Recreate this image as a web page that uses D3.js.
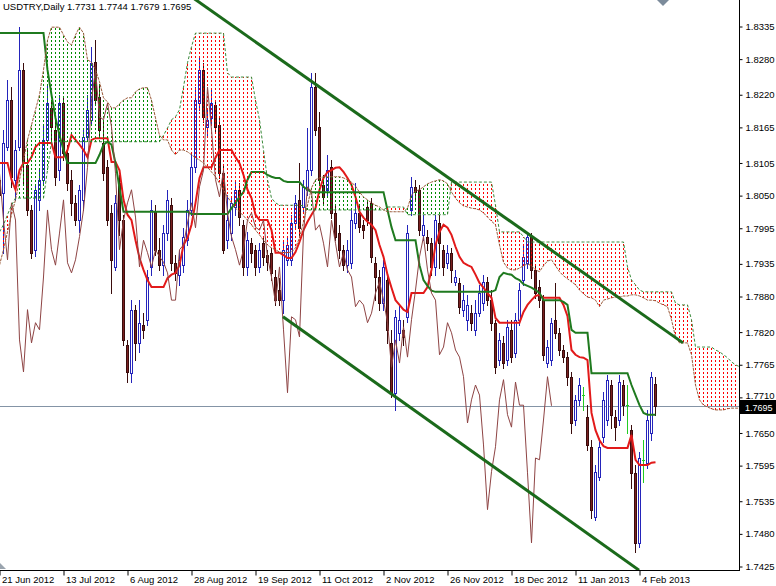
<!DOCTYPE html>
<html><head><meta charset="utf-8">
<script src="https://cdn.jsdelivr.net/npm/d3@7"></script>
<style>html,body{margin:0;padding:0;background:#fff;overflow:hidden}
text{font-family:"Liberation Sans",Arial,sans-serif}</style>
</head><body>
<svg id="c" width="776" height="586"></svg>
<script>
const chartTitle = "USDTRY,Daily  1.7731 1.7744 1.7679 1.7695";
const lastPrice = 1.7695;
const dateLabels = ["21 Jun 2012","13 Jul 2012","6 Aug 2012","28 Aug 2012","19 Sep 2012","11 Oct 2012","2 Nov 2012","26 Nov 2012","18 Dec 2012","11 Jan 2013","4 Feb 2013"];
const dateLabelBars = [0,16,32,48,64,80,96,112,128,144,160];
const priceTicks = [1.8335,1.8280,1.8220,1.8165,1.8105,1.8050,1.7995,1.7935,1.7880,1.7820,1.7765,1.7710,1.7650,1.7595,1.7535,1.7480,1.7425];

const open = [1.8076,1.8054,1.8131,1.8210,1.8076,1.8131,1.8261,1.8101,1.8025,1.7958,1.8042,1.8076,1.8143,1.8197,1.8160,1.8092,1.8205,1.8121,1.8076,1.8037,1.8008,1.8042,1.8148,1.8177,1.8274,1.8215,1.8138,1.8097,1.8020,1.7929,1.8070,1.8008,1.7798,1.7750,1.7857,1.7801,1.7831,1.7840,1.7929,1.8022,1.7958,1.7932,1.7986,1.8033,1.7936,1.7916,1.7932,1.7974,1.8025,1.8097,1.8205,1.8261,1.8165,1.8180,1.8202,1.8168,1.8087,1.7974,1.7986,1.8030,1.8059,1.8000,1.7929,1.7969,1.7958,1.7929,1.7969,1.7949,1.7953,1.7912,1.7890,1.7873,1.7941,1.7941,1.8003,1.8042,1.8030,1.8059,1.8092,1.8232,1.8165,1.8067,1.8059,1.8097,1.8020,1.7986,1.7958,1.7932,1.7936,1.8003,1.8020,1.8000,1.8030,1.8037,1.7936,1.7912,1.7868,1.7907,1.7801,1.7717,1.7818,1.7823,1.7845,1.8025,1.8064,1.8059,1.7983,1.7980,1.7969,1.7929,1.8003,1.7958,1.7936,1.7953,1.7904,1.7902,1.7857,1.7840,1.7851,1.7823,1.7851,1.7868,1.7904,1.7873,1.7835,1.7772,1.7801,1.7772,1.7823,1.7784,1.7840,1.7907,1.7936,1.7980,1.7924,1.7895,1.7873,1.7767,1.7772,1.7840,1.7818,1.7789,1.7777,1.7744,1.7671,1.7705,1.7713,1.7676,1.7626,1.7508,1.7575,1.7643,1.7671,1.7730,1.7676,1.7671,1.7730,1.7696,1.7654,1.7582,1.7464,1.7604,1.7599,1.7649,1.7731];
const high = [1.8092,1.8160,1.8244,1.8232,1.8143,1.8333,1.8273,1.8126,1.8033,1.8067,1.8092,1.8168,1.8236,1.8210,1.8177,1.8219,1.8215,1.8135,1.8092,1.8050,1.8067,1.8160,1.8219,1.8300,1.8311,1.8236,1.8177,1.8109,1.8033,1.8050,1.8084,1.8017,1.7806,1.7873,1.7865,1.7873,1.7851,1.7924,1.8042,1.8033,1.7978,1.8000,1.8059,1.8045,1.7949,1.7958,1.7995,1.8042,1.8121,1.8232,1.8281,1.8273,1.8197,1.8227,1.8210,1.8182,1.8101,1.8050,1.8047,1.8076,1.8070,1.8008,1.7988,1.7978,1.7966,1.7969,1.7981,1.7958,1.7961,1.7924,1.7910,1.7974,1.7980,1.8017,1.8050,1.8104,1.8076,1.8163,1.8256,1.8256,1.8190,1.8084,1.8118,1.8109,1.8033,1.8000,1.7966,1.7974,1.8025,1.8070,1.8033,1.8008,1.8042,1.8045,1.7946,1.7924,1.7941,1.7916,1.7823,1.7857,1.7865,1.7840,1.8000,1.8081,1.8076,1.8067,1.8017,1.7991,1.7978,1.8017,1.8017,1.7966,1.7966,1.7961,1.7924,1.7910,1.7899,1.7882,1.7865,1.7873,1.7899,1.7916,1.7912,1.7890,1.7840,1.7818,1.7813,1.7840,1.7840,1.7851,1.7902,1.7966,1.7988,1.7986,1.7932,1.7907,1.7882,1.7806,1.7843,1.7902,1.7826,1.7798,1.7786,1.7752,1.7713,1.7742,1.7727,1.7696,1.7637,1.7595,1.7637,1.7718,1.7747,1.7739,1.7688,1.7747,1.7739,1.7730,1.7663,1.7595,1.7617,1.7637,1.7688,1.7752,1.7744];
const low = [1.7949,1.7953,1.8126,1.8064,1.8042,1.8126,1.8070,1.8017,1.7944,1.7948,1.8025,1.8067,1.8135,1.8143,1.8067,1.8076,1.8109,1.8059,1.8017,1.8000,1.7988,1.8025,1.8143,1.8168,1.8202,1.8151,1.8076,1.8000,1.7885,1.7924,1.7983,1.7798,1.7735,1.7735,1.7772,1.7786,1.7809,1.7831,1.7916,1.7949,1.7924,1.7916,1.7974,1.7924,1.7907,1.7899,1.7921,1.7966,1.8017,1.8089,1.8194,1.8173,1.8148,1.8172,1.8155,1.8079,1.7953,1.7961,1.7974,1.8017,1.8000,1.7916,1.7916,1.7937,1.7916,1.7921,1.7932,1.7924,1.7907,1.7865,1.7865,1.7851,1.7932,1.7932,1.7995,1.7980,1.8022,1.8050,1.8084,1.8151,1.8067,1.8037,1.8050,1.8012,1.7974,1.7944,1.7924,1.7921,1.7927,1.7995,1.7988,1.7978,1.8000,1.7937,1.7873,1.7857,1.7857,1.7801,1.7710,1.7688,1.7806,1.7798,1.7836,1.8017,1.8042,1.7983,1.7974,1.7958,1.7916,1.7916,1.7927,1.7916,1.7927,1.7904,1.7899,1.7851,1.7846,1.7823,1.7823,1.7814,1.7846,1.7857,1.7865,1.7823,1.7750,1.7764,1.7759,1.7764,1.7769,1.7777,1.7831,1.7899,1.7927,1.7910,1.7877,1.7862,1.7772,1.7760,1.7764,1.7809,1.7781,1.7769,1.7730,1.7649,1.7663,1.7696,1.7688,1.7621,1.7506,1.7503,1.7570,1.7634,1.7663,1.7658,1.7637,1.7663,1.7680,1.7649,1.7557,1.7449,1.7457,1.7567,1.7590,1.7637,1.7679];
const close = [1.8050,1.8138,1.8210,1.8081,1.8126,1.8261,1.8104,1.8025,1.7953,1.8059,1.8076,1.8143,1.8205,1.8165,1.8081,1.8205,1.8121,1.8070,1.8037,1.8008,1.8059,1.8148,1.8194,1.8273,1.8210,1.8160,1.8087,1.8008,1.7941,1.8037,1.8008,1.7806,1.7752,1.7857,1.7801,1.7835,1.7823,1.7912,1.8025,1.7958,1.7932,1.7986,1.8042,1.7936,1.7919,1.7941,1.7980,1.8025,1.8097,1.8210,1.8261,1.8182,1.8177,1.8205,1.8165,1.8087,1.7958,1.8008,1.8037,1.8059,1.8013,1.7929,1.7974,1.7953,1.7929,1.7958,1.7946,1.7937,1.7919,1.7873,1.7873,1.7958,1.7966,1.8003,1.8037,1.7995,1.8064,1.8092,1.8232,1.8160,1.8076,1.8047,1.8092,1.8020,1.7980,1.7958,1.7932,1.7958,1.8008,1.8020,1.7996,1.7991,1.8008,1.7946,1.7912,1.7868,1.7929,1.7823,1.7717,1.7845,1.7840,1.7811,1.7986,1.8064,1.8055,1.7991,1.8000,1.7969,1.7929,1.8008,1.7969,1.7929,1.7953,1.7924,1.7912,1.7862,1.7873,1.7865,1.7835,1.7851,1.7885,1.7904,1.7873,1.7835,1.7760,1.7806,1.7767,1.7828,1.7777,1.7840,1.7890,1.7946,1.7980,1.7924,1.7885,1.7873,1.7781,1.7794,1.7835,1.7818,1.7789,1.7777,1.7744,1.7666,1.7705,1.7730,1.7713,1.7629,1.7520,1.7584,1.7626,1.7705,1.7739,1.7680,1.7659,1.7735,1.7696,1.7696,1.7582,1.7464,1.7607,1.7604,1.7671,1.7744,1.7695];

const tenkan = [1.8104,1.8104,1.8104,1.8076,1.8059,1.8092,1.8104,1.8104,1.8114,1.8131,1.8138,1.8138,1.8138,1.8138,1.8114,1.8114,1.8114,1.8126,1.8151,1.8143,1.8135,1.8126,1.8114,1.8143,1.8146,1.8146,1.8146,1.8146,1.8106,1.8106,1.8092,1.8042,1.8017,1.8008,1.7974,1.7944,1.7924,1.7907,1.7895,1.7895,1.7895,1.7895,1.7910,1.7916,1.7919,1.7932,1.7966,1.7978,1.8000,1.8037,1.8079,1.8097,1.8097,1.8097,1.8113,1.8126,1.8126,1.8126,1.8126,1.8114,1.8104,1.8084,1.8059,1.8045,1.8017,1.8008,1.8008,1.8008,1.7991,1.7953,1.7953,1.7949,1.7944,1.7944,1.7954,1.7971,1.7991,1.8005,1.8017,1.8028,1.8059,1.8079,1.8089,1.8092,1.8096,1.8097,1.8089,1.8079,1.8067,1.8047,1.8022,1.8012,1.8005,1.8000,1.7991,1.7966,1.7946,1.7916,1.7894,1.7873,1.7865,1.7857,1.7853,1.7885,1.7885,1.7885,1.7885,1.7895,1.7924,1.7966,1.7988,1.8000,1.7995,1.7983,1.7963,1.7946,1.7936,1.7932,1.7929,1.7916,1.7902,1.7894,1.7885,1.7877,1.7843,1.7835,1.7835,1.7835,1.7835,1.7835,1.7835,1.7853,1.7865,1.7873,1.7880,1.7882,1.7877,1.7877,1.7877,1.7877,1.7877,1.7865,1.7846,1.7789,1.7781,1.7777,1.7776,1.7772,1.7683,1.7654,1.7637,1.7627,1.7624,1.7624,1.7624,1.7624,1.7624,1.7624,1.7646,1.7604,1.7595,1.7595,1.7595,1.7599,1.7600];
const kijun = [1.8323,1.8323,1.8323,1.8323,1.8323,1.8323,1.8323,1.8323,1.8323,1.8323,1.8323,1.8323,1.8261,1.8219,1.8180,1.8151,1.8126,1.8104,1.8104,1.8104,1.8104,1.8104,1.8104,1.8104,1.8104,1.8118,1.8135,1.8140,1.8135,1.8104,1.8062,1.8022,1.8022,1.8022,1.8022,1.8022,1.8022,1.8022,1.8022,1.8022,1.8022,1.8022,1.8022,1.8022,1.8022,1.8022,1.8022,1.8022,1.8018,1.8018,1.8018,1.8018,1.8018,1.8018,1.8018,1.8018,1.8018,1.8018,1.8028,1.8037,1.8047,1.8055,1.8076,1.8089,1.8089,1.8089,1.8089,1.8084,1.8081,1.8079,1.8079,1.8074,1.8072,1.8072,1.8072,1.8072,1.8064,1.8059,1.8055,1.8055,1.8055,1.8055,1.8055,1.8055,1.8055,1.8055,1.8055,1.8055,1.8055,1.8055,1.8055,1.8055,1.8055,1.8055,1.8055,1.8055,1.8055,1.8025,1.7996,1.7974,1.7974,1.7974,1.7974,1.7974,1.7974,1.7932,1.7907,1.7897,1.7889,1.7887,1.7887,1.7887,1.7887,1.7887,1.7887,1.7887,1.7887,1.7887,1.7887,1.7887,1.7887,1.7887,1.7887,1.7887,1.7890,1.7912,1.7919,1.7917,1.7916,1.7910,1.7907,1.7900,1.7897,1.7894,1.7890,1.7885,1.7873,1.7873,1.7873,1.7873,1.7873,1.7870,1.7865,1.7823,1.7818,1.7818,1.7818,1.7818,1.7750,1.7750,1.7750,1.7750,1.7750,1.7750,1.7750,1.7750,1.7750,1.7750,1.7730,1.7713,1.7696,1.7683,1.7680,1.7680,1.7680];
const spanA = [1.7932,1.7958,1.7988,1.8017,1.8042,1.8076,1.8109,1.8143,1.8168,1.8194,1.8219,1.8261,1.8311,1.8333,1.8333,1.8333,1.8320,1.8308,1.8303,1.8320,1.8333,1.8323,1.8278,1.8274,1.8261,1.8241,1.8214,1.8207,1.8197,1.8197,1.8204,1.8210,1.8214,1.8214,1.8224,1.8229,1.8231,1.8231,1.8210,1.8180,1.8151,1.8143,1.8143,1.8126,1.8118,1.8126,1.8126,1.8123,1.8118,1.8113,1.8109,1.8104,1.8097,1.8089,1.8081,1.8070,1.8059,1.8047,1.8037,1.8028,1.8022,1.8015,1.8008,1.8000,1.7991,1.7983,1.7974,1.7966,1.7961,1.7958,1.7954,1.7953,1.7953,1.7954,1.7961,1.7978,1.8005,1.8033,1.8062,1.8076,1.8079,1.8081,1.8081,1.8081,1.8081,1.8081,1.8079,1.8076,1.8072,1.8065,1.8055,1.8047,1.8042,1.8037,1.8033,1.8030,1.8025,1.8022,1.8022,1.8022,1.8022,1.8022,1.8028,1.8050,1.8057,1.8059,1.8064,1.8069,1.8072,1.8074,1.8076,1.8074,1.8069,1.8055,1.8045,1.8037,1.8032,1.8030,1.8028,1.8027,1.8025,1.8020,1.8013,1.8006,1.8000,1.7966,1.7937,1.7927,1.7924,1.7924,1.7927,1.7931,1.7934,1.7931,1.7924,1.7921,1.7931,1.7939,1.7941,1.7931,1.7921,1.7914,1.7909,1.7904,1.7899,1.7890,1.7884,1.7878,1.7877,1.7873,1.7862,1.7873,1.7875,1.7877,1.7878,1.7878,1.7880,1.7880,1.7882,1.7882,1.7880,1.7877,1.7873,1.7873,1.7872,1.7868,1.7865,1.7862,1.7840,1.7811,1.7801,1.7801,1.7801,1.7781,1.7730,1.7705,1.7696,1.7693,1.7690,1.7688,1.7688,1.7688,1.7690,1.7691,1.7691,1.7691];
const spanB = [1.7988,1.8000,1.8017,1.8033,1.8045,1.8045,1.8045,1.8045,1.8045,1.8045,1.8045,1.8045,1.8092,1.8140,1.8140,1.8140,1.8140,1.8140,1.8140,1.8140,1.8140,1.8140,1.8140,1.8140,1.8140,1.8140,1.8140,1.8140,1.8140,1.8140,1.8140,1.8140,1.8140,1.8140,1.8140,1.8140,1.8140,1.8140,1.8140,1.8140,1.8140,1.8151,1.8163,1.8177,1.8182,1.8194,1.8232,1.8273,1.8300,1.8323,1.8323,1.8323,1.8323,1.8323,1.8323,1.8323,1.8323,1.8256,1.8249,1.8249,1.8249,1.8249,1.8249,1.8249,1.8210,1.8177,1.8126,1.8076,1.8045,1.8037,1.8033,1.8033,1.8033,1.8033,1.8033,1.8033,1.8032,1.8025,1.8025,1.8025,1.8025,1.8025,1.8025,1.8025,1.8025,1.8025,1.8025,1.8025,1.8025,1.8025,1.8025,1.8025,1.8025,1.8025,1.8025,1.8025,1.8025,1.8030,1.8030,1.8030,1.8030,1.8030,1.8017,1.8017,1.8017,1.8017,1.8017,1.8017,1.8017,1.8017,1.8017,1.8017,1.8017,1.8072,1.8072,1.8072,1.8072,1.8072,1.8072,1.8072,1.8072,1.8072,1.8072,1.8072,1.8033,1.7988,1.7988,1.7988,1.7988,1.7988,1.7988,1.7980,1.7971,1.7971,1.7971,1.7971,1.7971,1.7971,1.7971,1.7971,1.7971,1.7971,1.7971,1.7971,1.7971,1.7971,1.7971,1.7971,1.7971,1.7971,1.7971,1.7971,1.7971,1.7971,1.7971,1.7971,1.7971,1.7929,1.7907,1.7899,1.7890,1.7887,1.7887,1.7887,1.7887,1.7887,1.7887,1.7887,1.7887,1.7868,1.7865,1.7865,1.7865,1.7840,1.7794,1.7794,1.7794,1.7794,1.7794,1.7789,1.7786,1.7781,1.7776,1.7769,1.7764,1.7761];
const chikouShift = 26;
const trendUpper = [[45, 1.8399], [171, 1.7801]];
const trendLower = [[71, 1.7845], [160, 1.7418]];

const W = 776, H = 586, plotR = 739, plotB = 570;
const svg = d3.select("#c");
const x = d3.scaleLinear().domain([0, 164]).range([-1, 655]);
const y = d3.scaleLinear().domain([1.7425, 1.8335]).range([566, 26]);
const px = i => Math.round(x(i));
const py = v => Math.round(y(v));

const defs = svg.append("defs");
defs.append("clipPath").attr("id", "plotClip").append("rect").attr("x", 0).attr("y", 0).attr("width", plotR).attr("height", plotB);

svg.append("rect").attr("width", W).attr("height", H).attr("fill", "#fff");
const plot = svg.append("g").attr("clip-path", "url(#plotClip)");

// bid line
plot.append("line").attr("x1", 0).attr("x2", plotR)
  .attr("y1", py(lastPrice) + 0.5).attr("y2", py(lastPrice) + 0.5)
  .attr("stroke", "#8494a6").attr("stroke-width", 1);

// candles
const cg = plot.append("g");
close.forEach((c, i) => {
  const o = open[i], h = high[i], l = low[i], cx = px(i);
  const bull = c > o, doji = c === o;
  const col = doji ? "#22cc22" : bull ? "#2424bb" : "#3a0c0c";
  cg.append("line").attr("x1", cx + 0.5).attr("x2", cx + 0.5)
    .attr("y1", py(h)).attr("y2", py(l) + 1).attr("stroke", col);
  if (doji) {
    cg.append("line").attr("x1", cx - 1).attr("x2", cx + 2)
      .attr("y1", py(o) + 0.5).attr("y2", py(o) + 0.5).attr("stroke", col);
  } else {
    const t = py(Math.max(o, c)), b = py(Math.min(o, c));
    cg.append("rect").attr("x", cx - 0.5).attr("y", t + 0.5)
      .attr("width", 2).attr("height", Math.max(b - t, 1))
      .attr("fill", bull ? "#ffffff" : "#7a2020").attr("stroke", col);
  }
});

const lineOf = arr => d3.line().x((d, i) => px(i) + 0.5).y(d => y(d))(arr);

// tenkan & kijun
plot.append("path").attr("d", lineOf(tenkan)).attr("fill", "none").attr("stroke", "#e21a1a").attr("stroke-width", 2);
plot.append("path").attr("d", lineOf(kijun)).attr("fill", "none").attr("stroke", "#1f7a1f").attr("stroke-width", 2);

// cloud histogram (dotted vertical lines, one per bar)
const cloud = plot.append("g").attr("shape-rendering", "crispEdges");
spanA.forEach((a, i) => {
  const b = spanB[i], cx = px(i);
  if (cx >= plotR) return;
  const t = py(Math.max(a, b)), bt = py(Math.min(a, b));
  if (bt - t < 1) return;
  cloud.append("line").attr("x1", cx + 0.5).attr("x2", cx + 0.5).attr("y1", t).attr("y2", bt)
    .attr("stroke", a >= b ? "#008a00" : "#ff0000").attr("stroke-width", 1)
    .attr("stroke-dasharray", "2,2").attr("stroke-dashoffset", ((t % 4) + 4) % 4);
});

// chikou
plot.append("path").attr("d", lineOf(close.slice(chikouShift))).attr("fill", "none")
  .attr("stroke", "#8e4444").attr("stroke-width", 1);

// span lines
plot.append("path").attr("d", lineOf(spanA)).attr("fill", "none").attr("stroke", "#9a5a3a")
  .attr("stroke-width", 1).attr("stroke-dasharray", "3,1");
plot.append("path").attr("d", lineOf(spanB)).attr("fill", "none").attr("stroke", "#3a8a3a")
  .attr("stroke-width", 1).attr("stroke-dasharray", "3,2");

// trendlines
[trendUpper, trendLower].forEach(t => {
  plot.append("line").attr("x1", x(t[0][0])).attr("y1", y(t[0][1]))
    .attr("x2", x(t[1][0])).attr("y2", y(t[1][1]))
    .attr("stroke", "#1b6a1b").attr("stroke-width", 3);
});

// axes frame
svg.append("line").attr("x1", plotR + 0.5).attr("x2", plotR + 0.5).attr("y1", 0).attr("y2", plotB + 1).attr("stroke", "#000");
svg.append("line").attr("x1", 0).attr("x2", plotR + 1).attr("y1", plotB + 0.5).attr("y2", plotB + 0.5).attr("stroke", "#000");

const yAxis = d3.axisRight(y).tickValues(priceTicks).tickFormat(d3.format(".4f")).tickSize(3).tickPadding(3).tickSizeOuter(0);
const ya = svg.append("g").attr("transform", `translate(${plotR + 0.5},0.5)`).call(yAxis);
ya.select(".domain").remove();
ya.selectAll("text").attr("font-size", "9.5px").attr("fill", "#000").attr("font-family", "'Liberation Sans',Arial,sans-serif");
ya.selectAll("line").attr("stroke", "#000");
ya.selectAll("text").filter(d => Math.abs(y(d) - y(lastPrice)) < 12).attr("dy", "0.1em");

const xAxis = d3.axisBottom(x).tickValues(dateLabelBars).tickFormat((d, i) => dateLabels[i]).tickSize(5).tickSizeOuter(0);
const xa = svg.append("g").attr("transform", `translate(0.5,${plotB + 0.5})`).call(xAxis);
xa.select(".domain").remove();
xa.selectAll("line").attr("stroke", "#000");
xa.selectAll("text").attr("text-anchor", "start").attr("x", 2).attr("y", 6)
  .attr("font-size", "9.5px").attr("fill", "#000").attr("font-family", "'Liberation Sans',Arial,sans-serif");

// current price label
const ly = py(lastPrice);
svg.append("rect").attr("x", plotR + 1).attr("y", ly - 6).attr("width", W - plotR - 1).attr("height", 14).attr("fill", "#000");
svg.append("text").attr("x", plotR + 6).attr("y", ly + 4.5).attr("fill", "#fff")
  .attr("font-size", "9px").text(d3.format(".4f")(lastPrice));

// title
svg.append("text").attr("x", 3).attr("y", 10).attr("font-size", "9.5px").attr("fill", "#000").text(chartTitle);

// shift markers
svg.append("polygon").attr("points", "657,0 669,0 663,6").attr("fill", "#7c8b9b");
svg.append("polygon").attr("points", "0,563 6,569 0,569").attr("fill", "#9aa4ae");
</script>
</body></html>
